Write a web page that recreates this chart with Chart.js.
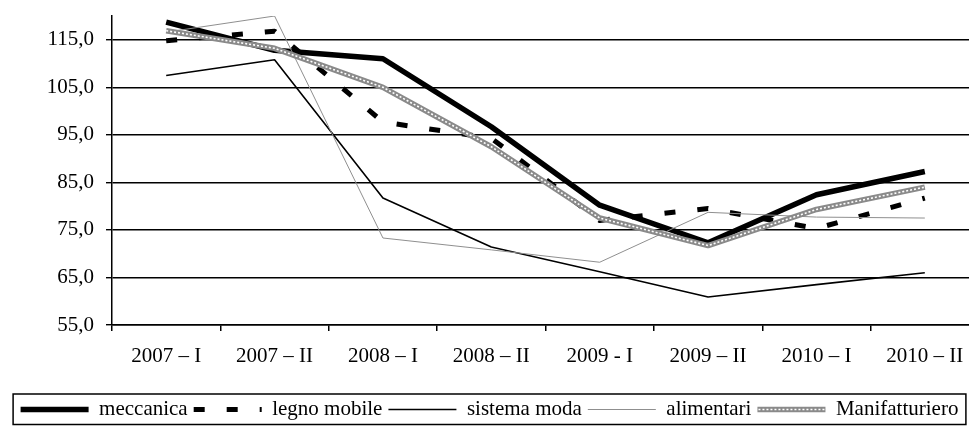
<!DOCTYPE html>
<html lang="it">
<head>
  <meta charset="UTF-8" />
  <title>Indici per settore</title>
  <script src="https://cdn.jsdelivr.net/npm/chart.js"></script>
  <style>
    html, body {
      margin: 0;
      padding: 0;
      background: #fff;
      overflow: hidden;
    }
  </style>
</head>
<body>
  <canvas id="chart" width="979" height="426"></canvas>

  <script>
    // semesters on the x axis
    const periods = ['2007 \u2013 I', '2007 \u2013 II', '2008 \u2013 I', '2008 \u2013 II',
                     '2009 - I', '2009 \u2013 II', '2010 \u2013 I', '2010 \u2013 II'];

    // values
    const meccanica      = [118.7, 112.8, 111.0, 96.7, 80.2, 72.3, 82.4, 87.3];
    const legnoMobile    = [114.8, 116.8, 97.7, 94.3, 77.0, 79.5, 75.3, 81.7];
    const sistemaModa    = [107.5, 110.8, 81.7, 71.4, 66.2, 60.9, 63.5, 66.0];
    const alimentari     = [116.6, 120.0, 73.3, 70.8, 68.2, 78.7, 77.7, 77.5];
    const manifatturiero = [116.9, 113.2, 105.0, 92.5, 77.5, 71.7, 79.3, 84.0];

    const yTicks = [55, 65, 75, 85, 95, 105, 115];

    const FONT = { family: "'Liberation Serif', 'Times New Roman', serif", size: 21 };
    const SAMPLE_W = 68;
    const MANIF_INDEX = 4;

    // frame round the legend, plus the white dots on the Manifatturiero sample
    const legendFrame = {
      id: 'legendFrame',
      afterDraw(chart) {
        const lg = chart.legend;
        const boxes = lg.legendHitBoxes;
        if (!boxes || !boxes.length) return;
        const ctx = chart.ctx;
        ctx.save();

        const mi = lg.legendItems.findIndex(it => it.datasetIndex === MANIF_INDEX);
        if (mi >= 0) {
          const hb = boxes[mi];
          const y = hb.top + FONT.size / 2;
          ctx.strokeStyle = '#fff';
          ctx.lineWidth = 1.6;
          ctx.setLineDash([2, 2]);
          ctx.beginPath();
          ctx.moveTo(hb.left + 1, y);
          ctx.lineTo(hb.left + SAMPLE_W - 1, y);
          ctx.stroke();
        }

        const first = boxes[0];
        const last = boxes[boxes.length - 1];
        const left = first.left - 7.5;
        const right = last.left + last.width + 7.5;
        const top = lg.top + 1;
        const bottom = chart.height - 1.5;
        ctx.setLineDash([]);
        ctx.strokeStyle = '#000';
        ctx.lineWidth = 1.5;
        ctx.strokeRect(left, top, right - left, bottom - top);
        ctx.restore();
      }
    };

    const lineDefaults = {
      pointRadius: 0,
      pointHoverRadius: 0,
      tension: 0,
      fill: false,
      borderJoinStyle: 'round',
      borderCapStyle: 'butt'
    };

    new Chart(document.getElementById('chart'), {
      type: 'line',
      data: {
        labels: periods,
        datasets: [
          { ...lineDefaults, label: 'meccanica', data: meccanica,
            borderColor: '#000', borderWidth: 5.5, order: 5 },
          { ...lineDefaults, label: 'legno mobile', data: legnoMobile,
            borderColor: '#000', borderWidth: 5, borderDash: [11, 22], order: 4 },
          { ...lineDefaults, label: 'sistema moda', data: sistemaModa,
            borderColor: '#000', borderWidth: 1.6, order: 3 },
          { ...lineDefaults, label: 'alimentari', data: alimentari,
            borderColor: '#8f8f8f', borderWidth: 1, order: 2 },
          { ...lineDefaults, label: 'Manifatturiero', data: manifatturiero,
            borderColor: '#8a8a8a', borderWidth: 5.5, order: 1 },
          // white dotted core of the Manifatturiero line
          { ...lineDefaults, label: '', data: manifatturiero,
            borderColor: '#fff', borderWidth: 1.6, borderDash: [2, 2], order: 0 }
        ]
      },
      options: {
        responsive: false,
        animation: false,
        devicePixelRatio: 1,
        layout: { padding: { left: 0, top: 16, right: 0, bottom: -4 } },
        plugins: {
          tooltip: { enabled: false },
          legend: {
            position: 'bottom',
            labels: {
              usePointStyle: true,
              pointStyle: 'line',
              pointStyleWidth: SAMPLE_W,
              padding: 6,
              color: '#000',
              font: FONT,
              sort: (a, b) => a.datasetIndex - b.datasetIndex,
              generateLabels: chart => chart.data.datasets
                .map((ds, i) => ({
                  text: ds.label,
                  datasetIndex: i,
                  strokeStyle: ds.borderColor,
                  fillStyle: ds.borderColor,
                  lineWidth: i === 3 ? 1.2 : ds.borderWidth,
                  lineDash: ds.borderDash || [],
                  lineDashOffset: 0,
                  lineCap: 'butt',
                  pointStyle: 'line',
                  fontColor: '#000',
                  hidden: false
                }))
                .filter(item => item.text)
            }
          }
        },
        scales: {
          x: {
            type: 'category',
            offset: true,
            afterFit: s => { s.height = 68; },
            grid: {
              offset: true,
              drawOnChartArea: false,
              color: '#000',
              lineWidth: 1.5,
              tickLength: 6
            },
            border: { display: true, color: '#000', width: 1.5 },
            ticks: {
              color: '#000',
              font: FONT,
              padding: 13,
              maxRotation: 0,
              autoSkip: false
            }
          },
          y: {
            min: 55,
            max: 120,
            afterBuildTicks: scale => {
              scale.ticks = yTicks.map(v => ({ value: v }));
            },
            afterFit: s => {
              s.width = 112;
              s.paddingTop = 0;
              s.paddingBottom = 0;
            },
            grid: {
              color: '#000',
              lineWidth: 1.4,
              tickLength: 6
            },
            border: { display: true, color: '#000', width: 1.5 },
            ticks: {
              color: '#000',
              font: FONT,
              padding: 12,
              callback: v => Number(v).toFixed(1).replace('.', ',')
            }
          }
        }
      },
      plugins: [legendFrame]
    });
  </script>
</body>
</html>
